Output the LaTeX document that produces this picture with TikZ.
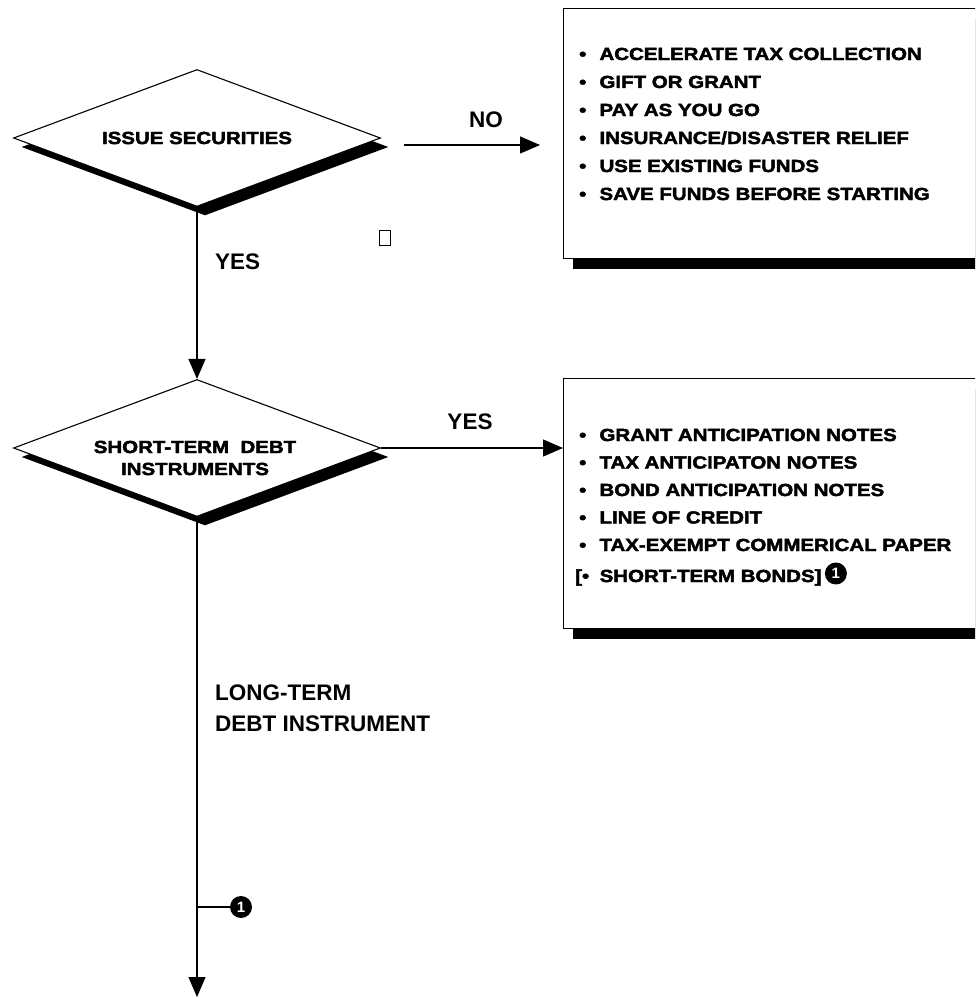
\documentclass[tikz,border=0pt]{standalone}
\usepackage{fontspec}
\setmainfont{Liberation Sans}
\newfontfamily\heavy{Liberation Sans}[FakeStretch=1.17, BoldFeatures={FakeBold=2.5}]
\usetikzlibrary{shapes.geometric,arrows.meta,shadows,positioning}

\begin{document}
\begin{tikzpicture}[x=1pt,y=-1pt,
  heavytext/.style={font=\heavy\bfseries\fontsize{17.5}{22}\selectfont},
  decision/.style={diamond, draw, line width=1.1pt, fill=white,
    minimum width=367pt, minimum height=137pt, inner sep=0pt, shape aspect=2.68,
    align=center, heavytext,
    drop shadow={shadow xshift=8pt, shadow yshift=-9pt, fill=black, opacity=1}},
  listbox/.style={rectangle, draw, line width=1.1pt, fill=white, anchor=north west,
    minimum width=440pt, minimum height=250pt, inner sep=0pt,
    drop shadow={shadow xshift=9pt, shadow yshift=-10pt, fill=black, opacity=1}},
  item/.style={anchor=base west, inner sep=0pt, heavytext},
  lbl/.style={font=\bfseries\fontsize{22.5}{27}\selectfont, inner sep=0pt},
  arr/.style={line width=1.1pt, -{Triangle[length=20pt,width=17pt]}},
  link/.style={line width=1.1pt},
  fnmark/.style={circle, fill=black, text=white, inner sep=0pt, minimum size=22pt,
    font=\bfseries\fontsize{15}{15}\selectfont},
]
\useasboundingbox (0,0) rectangle (975,998);
\clip (0,0) rectangle (975,998);

\coordinate (endA) at (197,997);

% decisions
\node[decision] (d1) at (197,138) {ISSUE SECURITIES};
\node[decision] (d2) at (197,448) {};
\node[heavytext, align=center, inner sep=0pt] (d2txt) at (195,458)
  {SHORT-TERM\ \ DEBT\\INSTRUMENTS};

% result boxes
\node[listbox] (box1) at (563,8) {};
\node[listbox] (box2) at (563,378) {};

% alternatives to issuing securities
\foreach \t [count=\i] in {ACCELERATE TAX COLLECTION, GIFT OR GRANT, PAY AS YOU GO,
    INSURANCE/DISASTER RELIEF, USE EXISTING FUNDS, SAVE FUNDS BEFORE STARTING}
  \node[item] (a\i) at (579,{60+28*(\i-1)}) {•\hspace{0.75em}\t};

% short-term instruments
\foreach \t [count=\i] in {GRANT ANTICIPATION NOTES, TAX ANTICIPATON NOTES,
    BOND ANTICIPATION NOTES, LINE OF CREDIT, TAX-EXEMPT COMMERICAL PAPER}
  \node[item] (s\i) at (579,{441+27.5*(\i-1)}) {•\hspace{0.75em}\t};
\node[item] (bonds) at (575,582) {[•\hspace{0.6em}SHORT-TERM BONDS]};
\node[fnmark, right=3pt of bonds.east, anchor=west, yshift=4pt] (fnA) {1};

% flow
\coordinate (noStart) at ([xshift=23pt,yshift=-7pt]d1.east);
\draw[arr, shorten >=23pt] (noStart) -- (noStart -| box1.west);
\node[lbl] (no) at (486,120) {NO};

\draw[arr] (d1.south) -- (d2.north);
\node[lbl, anchor=west] (yes1) at (215,262) {YES};

\draw[arr] (d2.east) -- (d2.east -| box2.west);
\node[lbl] (yes2) at (470,422) {YES};

\draw[arr] (d2.south) -- (endA);
\node[lbl, anchor=west, align=left] (lt) at (215,708) {LONG-TERM\\[4pt]DEBT INSTRUMENT};

\node[fnmark] (fnB) at (241,907) {1};
\draw[link] (d2.south |- fnB) -- (fnB.west);

% unprintable glyph left in the original
\node[draw, line width=1.4pt, minimum width=11pt, minimum height=15pt, inner sep=0pt] (gap) at (385,238) {};
\end{tikzpicture}
\end{document}
